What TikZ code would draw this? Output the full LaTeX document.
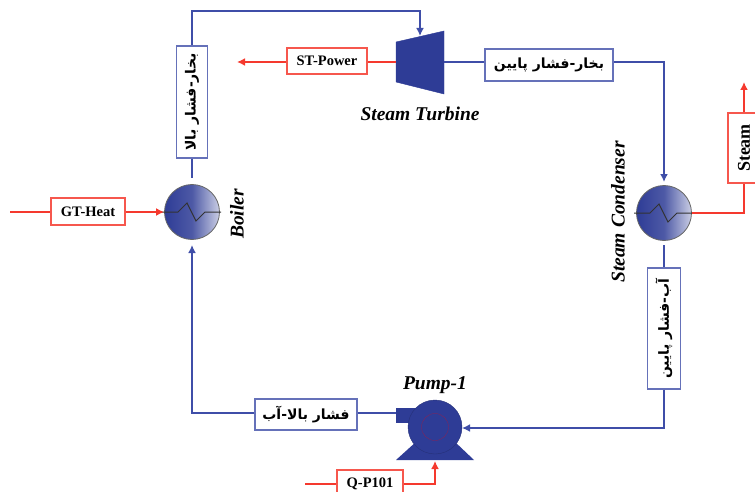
\documentclass[tikz,border=0pt]{standalone}
\usepackage{fontspec}
\setmainfont{Liberation Serif}
\newfontfamily\arabicfont[Script=Arabic]{DejaVu Sans}
\TeXXeTstate=1
\usetikzlibrary{arrows.meta}
\definecolor{cyclecol}{HTML}{3F4EA8}
\definecolor{powercol}{HTML}{F5392E}
\definecolor{unitcol}{HTML}{2E3C96}
\newcommand{\fa}[1]{{\arabicfont\bfseries\fontsize{14}{16}\selectfont\beginR #1\endR}}
\tikzset{
  cyclebox/.style={draw=cyclecol!80,line width=1.5pt,fill=white,inner sep=0pt,minimum width=#1},
  powerbox/.style={draw=powercol!85,line width=1.5pt,fill=white,inner sep=0pt,font=\bfseries\fontsize{14.5}{16}\selectfont,minimum width=#1},
  cycleline/.style={draw=cyclecol,line width=1.6pt},
  powerline/.style={draw=powercol,line width=1.6pt},
  exchanger/.style={circle,draw=black!60,line width=0.8pt,minimum size=55pt,inner sep=0pt,left color=unitcol,right color=unitcol!25,middle color=unitcol!85},
  unitlabel/.style={font=\bfseries\itshape\fontsize{19.5}{22}\selectfont,inner sep=0pt}
}
\begin{document}
\begin{tikzpicture}[>={Latex[length=8pt,width=8pt]},x=1pt,y=-1pt]
\useasboundingbox (0,0) rectangle (755,492);
% heat exchangers
\node[exchanger] (boiler) at (192,212) {};
\node[exchanger] (condenser) at (664,213) {};
\foreach \hx in {boiler,condenser}
  \draw[black!80,line width=1pt] (\hx.center) ++(-30,0) -- ++(16,0) -- ++(9,-9) -- ++(9,18) -- ++(9,-9) -- ++(16,0);
% turbine
\fill[unitcol,draw=unitcol] (396,42) -- (444,31) -- (444,94) -- (396,82) -- cycle;
\coordinate (turbinein) at (420,36);
\coordinate (turbineleft) at (396,62);
\coordinate (turbineright) at (444,62);
% pump
\fill[unitcol] (396,460) -- (417,441) -- (454,441) -- (474,460) -- cycle;
\fill[unitcol] (396,408) rectangle (425,423);
\node[circle,fill=unitcol,draw=unitcol!80!black,minimum size=54pt,inner sep=0pt] (pump) at (435,427) {};
\draw[red!45!unitcol,line width=0.3pt] (pump.center) circle (13.5);
\coordinate (pumpout) at (396,413);
\coordinate (pumpin) at (462,428);
\coordinate (pumpshaft) at (435,461);
% boxes
\node[cyclebox=112pt,minimum height=31pt,rotate=90] (hpsteam) at (192,102) {\fa{بخار-فشار بالا}};
\node[cyclebox=128pt,minimum height=32pt] (lpsteam) at (549,65) {\fa{بخار-فشار پایین}};
\node[cyclebox=121pt,minimum height=33pt,rotate=90] (lpwater) at (664,328.5) {\fa{آب-فشار پایین}};
\node[cyclebox=102pt,minimum height=31pt] (hpwater) at (306,414.5) {\fa{فشار بالا-آب}};
\node[powerbox=80pt,minimum height=26pt] (stpower) at (327,61) {ST-Power};
\node[powerbox=74pt,minimum height=27pt] (gtheat) at (88,211.5) {GT-Heat};
\node[powerbox=70pt,minimum height=32pt,rotate=90,font=\bfseries\fontsize{18}{20}\selectfont] (steam) at (744,148) {Steam};
\node[powerbox=66pt,minimum height=28pt] (qpump) at (370,484) {Q-P101};
% free ends
\coordinate (powerend) at (237,62);
\coordinate (heatstart) at (10,212);
\coordinate (steamend) at (744,82);
\coordinate (qstart) at (305,484);
% steam and water loop
\draw[cycleline] (hpsteam.west) -- (192,178);
\draw[cycleline,->] (hpsteam.east) |- (420,11) -- (turbinein);
\draw[cycleline] (turbineright) -- (lpsteam.west |- turbineright);
\draw[cycleline,->] (lpsteam.east |- turbineright) -| (664,182);
\draw[cycleline] (664,245) -- (lpwater.east);
\draw[cycleline,->] (lpwater.west) |- (pumpin);
\draw[cycleline] (pumpout) -- (hpwater.east |- pumpout);
\draw[cycleline,->] (hpwater.west |- pumpout) -| (192,245);
% power and heat
\draw[powerline] (turbineleft) -- (stpower.east |- turbineleft);
\draw[powerline,->] (stpower.west |- turbineleft) -- (powerend);
\draw[powerline] (heatstart) -- (gtheat.west |- heatstart);
\draw[powerline,->] (gtheat.east |- heatstart) -- (boiler.west);
\draw[powerline] (condenser.east) -| (steam.west);
\draw[powerline,->] (steam.east) -- (steamend);
\draw[powerline] (qstart) -- (qpump.west);
\draw[powerline,->] (qpump.east) -| (pumpshaft);
% labels
\node[unitlabel] (turbinelabel) at (420,114) {Steam Turbine};
\node[unitlabel,rotate=90] (boilerlabel) at (237,214) {Boiler};
\node[unitlabel,rotate=90] (condenserlabel) at (618,212) {Steam Condenser};
\node[unitlabel] (pumplabel) at (435,385) {Pump-1};
\end{tikzpicture}
\end{document}
